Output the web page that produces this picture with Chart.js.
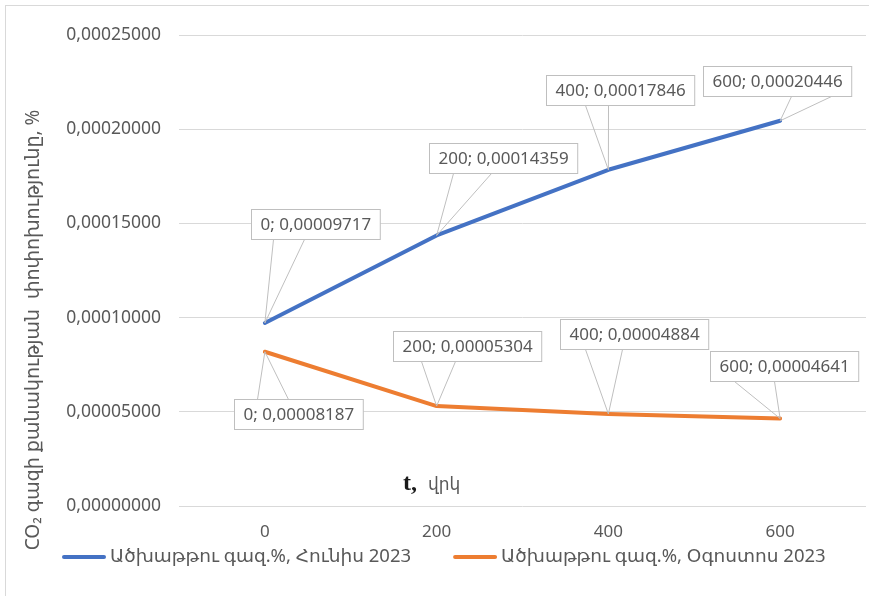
<!DOCTYPE html>
<html>
<head>
<meta charset="utf-8">
<style>
  html, body { margin: 0; padding: 0; background: #ffffff; }
  #wrap { position: relative; width: 869px; height: 596px; }
  canvas { display: block; }
</style>
<script src="https://cdn.jsdelivr.net/npm/chart.js@4/dist/chart.umd.min.js"></script>
</head>
<body>
<div id="wrap"><canvas id="chart" width="869" height="596"></canvas></div>
<script>
// Time points, seconds
const categories = ['0', '200', '400', '600'];
// CO2 change, %
const juneValues = [0.00009717, 0.00014359, 0.00017846, 0.00020446];
const augustValues = [0.00008187, 0.00005304, 0.00004884, 0.00004641];
const seriesNames = ['Ածխաթթու գազ.%, Հունիս 2023', 'Ածխաթթու գազ.%, Օգոստոս 2023'];
const yAxisTitle = 'CO₂ գազի քանակության  փոփոխությունը, %';
const xAxisTitleMain = 't,';
const xAxisTitleUnit = 'վրկ';

const FONT = "'Noto Sans', 'DejaVu Sans', sans-serif";
const TEXT = '#595959';

// Callout placement for each point: box centre offset from the point (dx, dy)
// and where the pointer base sits along the box edge (from its left side).
const calloutLayout = [
  [ {dx: 51, dy: -99, b0: 22, b1: 53}, {dx: 66, dy: -77, b0: 24, b1: 62},
    {dx: 12, dy: -80, b0: 39, b1: 62}, {dx: -3, dy: -40, b0: 88, b1: 128} ],
  [ {dx: 34, dy: 62, b0: 23, b1: 54}, {dx: 30, dy: -60, b0: 28, b1: 62},
    {dx: 26, dy: -80, b0: 25, b1: 62}, {dx: 4, dy: -53, b0: 24, b1: 64} ]
];

const fmt = v => v.toFixed(8).replace('.', ',');

const calloutPlugin = {
  id: 'callouts',
  afterDatasetsDraw(chart) {
    const ctx = chart.ctx;
    ctx.save();
    ctx.font = '17px ' + FONT;
    chart.data.datasets.forEach((ds, di) => {
      const meta = chart.getDatasetMeta(di);
      meta.data.forEach((pt, i) => {
        const lay = calloutLayout[di][i];
        const text = chart.data.labels[i] + '; ' + fmt(ds.data[i]);
        const w = ctx.measureText(text).width + 18;
        const h = 30;
        const cx = pt.x + lay.dx, cy = pt.y + lay.dy;
        const left = Math.round(cx - w / 2) + 0.5, top = Math.round(cy - h / 2) + 0.5;
        const edgeY = lay.dy < 0 ? top + h : top;
        // pointer
        ctx.strokeStyle = '#bfbfbf';
        ctx.lineWidth = 1;
        ctx.fillStyle = '#ffffff';
        ctx.beginPath();
        ctx.moveTo(left + lay.b0, edgeY);
        ctx.lineTo(pt.x, pt.y);
        ctx.lineTo(left + lay.b1, edgeY);
        ctx.stroke();
        // box
        ctx.fillRect(left, top, w, h);
        ctx.strokeRect(left, top, w, h);
        ctx.fillStyle = TEXT;
        ctx.textAlign = 'center';
        ctx.textBaseline = 'middle';
        ctx.fillText(text, left + w / 2, top + h / 2 + 1);
      });
    });
    ctx.restore();
  }
};

const decorPlugin = {
  id: 'decor',
  afterDraw(chart) {
    const ctx = chart.ctx;
    const area = chart.chartArea;
    ctx.save();
    // outer frame
    ctx.strokeStyle = '#d9d9d9';
    ctx.lineWidth = 1;
    ctx.strokeRect(5.5, 5.5, chart.width + 10, chart.height + 10);

    // vertical axis title
    ctx.fillStyle = TEXT;
    ctx.font = '19px ' + FONT;
    ctx.textAlign = 'center';
    ctx.textBaseline = 'middle';
    ctx.translate(34, 330);
    ctx.rotate(-Math.PI / 2);
    ctx.fillText(yAxisTitle, 0, 0);
    ctx.setTransform(1, 0, 0, 1, 0, 0);

    // horizontal axis title inside the plot
    ctx.textAlign = 'left';
    ctx.textBaseline = 'alphabetic';
    ctx.fillStyle = '#1a1a1a';
    ctx.font = "bold 24px 'Liberation Serif', serif";
    const tx = area.left + 224, ty = area.bottom - 16;
    ctx.fillText(xAxisTitleMain, tx, ty);
    const tw = ctx.measureText(xAxisTitleMain).width;
    ctx.fillStyle = TEXT;
    ctx.font = '17px ' + FONT;
    ctx.fillText(xAxisTitleUnit, tx + tw + 11, ty);

    // legend
    ctx.font = '18.5px ' + FONT;
    ctx.textBaseline = 'middle';
    let x = 62;
    const ly = 557;
    chart.data.datasets.forEach(ds => {
      ctx.strokeStyle = ds.borderColor;
      ctx.lineWidth = 4;
      ctx.lineCap = 'round';
      ctx.beginPath();
      ctx.moveTo(x + 2, ly);
      ctx.lineTo(x + 42, ly);
      ctx.stroke();
      ctx.fillStyle = TEXT;
      ctx.fillText(ds.label, x + 48, ly);
      x += 48 + ctx.measureText(ds.label).width + 42;
    });
    ctx.restore();
  }
};

new Chart(document.getElementById('chart'), {
  type: 'line',
  data: {
    labels: categories,
    datasets: [
      { label: seriesNames[0], data: juneValues, borderColor: '#4472C4', backgroundColor: '#4472C4',
        borderWidth: 4, pointRadius: 0, tension: 0, borderCapStyle: 'round', borderJoinStyle: 'round' },
      { label: seriesNames[1], data: augustValues, borderColor: '#ED7D31', backgroundColor: '#ED7D31',
        borderWidth: 4, pointRadius: 0, tension: 0, borderCapStyle: 'round', borderJoinStyle: 'round' }
    ]
  },
  options: {
    responsive: false,
    animation: false,
    layout: { padding: { top: 35, right: 3, bottom: 50, left: 0 } },
    plugins: { legend: { display: false }, tooltip: { enabled: false } },
    scales: {
      x: {
        type: 'category',
        offset: true,
        grid: { display: false, drawTicks: false },
        border: { display: false },
        ticks: { color: TEXT, font: { family: FONT, size: 17 }, padding: 16, maxRotation: 0 },
        afterFit(scale) { scale.height = 40; }
      },
      y: {
        min: 0,
        max: 0.00025,
        grid: { color: '#d9d9d9', lineWidth: 1, drawTicks: false },
        border: { display: false },
        ticks: { stepSize: 0.00005, color: TEXT, font: { family: FONT, size: 17.5 }, padding: 18,
                 callback: v => fmt(v) },
        afterFit(scale) { scale.width = 179; }
      }
    }
  },
  plugins: [calloutPlugin, decorPlugin]
});
</script>
</body>
</html>
